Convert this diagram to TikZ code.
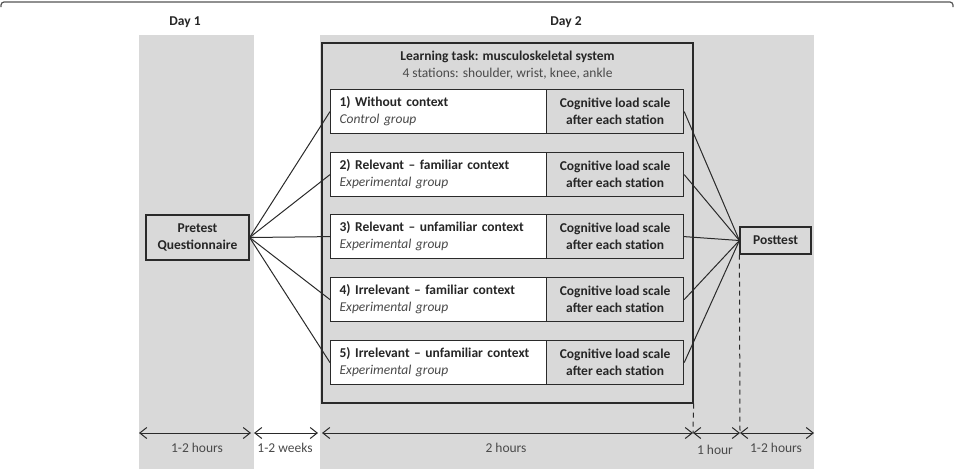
\documentclass[tikz,border=0pt]{standalone}
\usepackage{fontspec}
\setmainfont{Carlito}
\usetikzlibrary{arrows.meta}
\definecolor{bggray}{HTML}{D9D9D9}
\definecolor{ink}{HTML}{2A2A2A}
\definecolor{txt}{HTML}{262626}
\definecolor{subtxt}{HTML}{4A4A4A}
\newcommand{\fsz}{\fontsize{13.5}{17}\selectfont}
\tikzset{
  lbl/.style={font=\fsz\bfseries, text=txt, inner sep=0pt},
  grp/.style={draw=ink, line width=1.2pt, fill=white, anchor=north west,
    minimum width=216pt, minimum height=44pt, text width=198pt, inner xsep=9pt, inner ysep=0pt,
    align=left, text=txt, font=\fsz},
  cog/.style={draw=ink, line width=1.2pt, fill=bggray, anchor=north west,
    minimum width=137pt, minimum height=44pt, align=center, text=txt, inner sep=0pt,
    font=\fsz\bfseries},
  testbox/.style={draw=ink, line width=1.2pt, fill=bggray, align=center, text=txt,
    font=\fsz\bfseries, inner sep=0pt},
  conn/.style={draw=ink, line width=1.0pt},
  guide/.style={draw=ink, line width=1.0pt, dash pattern=on 5pt off 4pt},
  span/.style={draw=ink, line width=1.0pt, {Straight Barb[length=7pt,width=11pt,line width=1.0pt]}-{Straight Barb[length=7pt,width=11pt,line width=1.0pt]}},
  spanlbl/.style={font=\fsz, text=subtxt, inner sep=0pt}
}
\begin{document}
\begin{tikzpicture}[x=1pt,y=-1pt]
\useasboundingbox (0,0) rectangle (955,472);
% frame top line
\draw[line width=1.2pt, ink!80] (1,7) [rounded corners=3pt] -- (1,2) -- (953,2) -- (953,7);
% grey columns
\fill[bggray] (139,35) rectangle (254,469);
\fill[bggray] (320,35) rectangle (814,469);
% day labels
\node[lbl] (day1) at (185,22) {Day 1};
\node[lbl] (day2) at (566,22) {Day 2};
% learning task box
\node[draw=ink, line width=1.2pt, minimum width=371pt, minimum height=360pt, inner sep=0pt] (task) at (507.5,223) {};
\node[lbl] (tasktitle) at (507.5,57) {Learning task: musculoskeletal system};
\node[lbl, font=\fsz, text=subtxt] (tasksub) at (507.5,74) {4 stations: shoulder, wrist, knee, ankle};
% groups
\node[grp] (g1) at (330,89)  {\textbf{1) Without context}\\\textcolor{subtxt}{\itshape Control group}};
\node[grp] (g2) at (330,152) {\textbf{2) Relevant -- familiar context}\\\textcolor{subtxt}{\itshape Experimental group}};
\node[grp] (g3) at (330,214) {\textbf{3) Relevant -- unfamiliar context}\\\textcolor{subtxt}{\itshape Experimental group}};
\node[grp] (g4) at (330,277) {\textbf{4) Irrelevant -- familiar context}\\\textcolor{subtxt}{\itshape Experimental group}};
\node[grp] (g5) at (330,340) {\textbf{5) Irrelevant -- unfamiliar context}\\\textcolor{subtxt}{\itshape Experimental group}};
\node[cog] (c1) at (546,89)  {Cognitive load scale\\after each station};
\node[cog] (c2) at (546,152) {Cognitive load scale\\after each station};
\node[cog] (c3) at (546,214) {Cognitive load scale\\after each station};
\node[cog] (c4) at (546,277) {Cognitive load scale\\after each station};
\node[cog] (c5) at (546,340) {Cognitive load scale\\after each station};
% tests
\node[testbox, minimum width=103pt, minimum height=45pt] (pre) at (197.5,237.5) {Pretest\\Questionnaire};
\node[testbox, minimum width=71pt, minimum height=27pt] (post) at (775.5,240.5) {Posttest};
% connectors
\foreach \i in {1,...,5} {
  \draw[conn] (pre.east) -- (g\i.west);
  \draw[conn] (c\i.east) -- (post.west);
}
% dashed guides
\coordinate (t1) at (693,433);
\coordinate (t2) at (740,433);
\draw[guide] (task.south east) -- (t1);
\draw[guide] (post.south west) -- (t2);
% time spans
\coordinate (a0) at (139,433); \coordinate (a1) at (251,433);
\coordinate (b0) at (254,433); \coordinate (b1) at (318,433);
\coordinate (c0) at (322,433);
\coordinate (e1) at (814,433);
\draw[span] (a0) -- (a1);
\draw[span] (b0) -- (b1);
\draw[span] (c0) -- (t1);
\draw[span] (t1) -- (t2);
\draw[span] (t2) -- (e1);
\node[spanlbl] (s1) at (197,448) {1-2 hours};
\node[spanlbl] (s2) at (285,448) {1-2 weeks};
\node[spanlbl] (s3) at (506,448) {2 hours};
\node[spanlbl] (s4) at (715,450) {1 hour};
\node[spanlbl] (s5) at (776,448) {1-2 hours};
\end{tikzpicture}
\end{document}
